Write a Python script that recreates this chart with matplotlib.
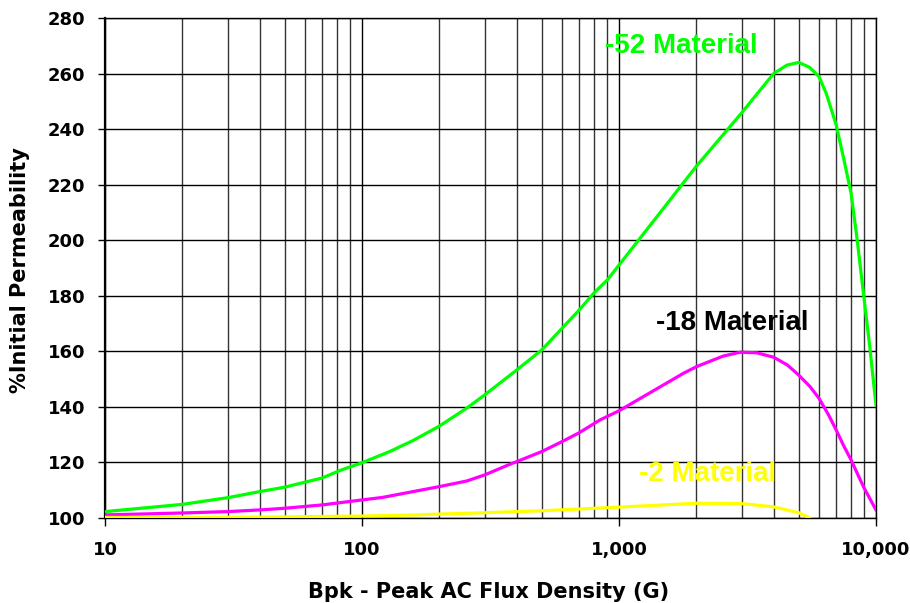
import matplotlib
matplotlib.use("Agg")
import matplotlib.pyplot as plt
from matplotlib.ticker import FixedLocator, NullFormatter, LogLocator

# ---- data ----
x52 = [10, 20, 30, 40, 50, 70, 82, 100, 128, 158, 200, 255, 300, 400, 500, 600, 700,
       800, 900, 1000, 1500, 2000, 3000, 3540, 4000, 4500, 5000, 5500, 6000, 6400, 7000,
       7460, 8000, 8420, 9000, 9420, 10000]
y52 = [102.2, 104.8, 107.2, 109.4, 111.0, 114.3, 117.0, 119.8, 123.8, 127.8, 133.0, 139.4,
       144.2, 153.2, 160.4, 168.2, 174.8, 181.0, 185.6, 191.0, 211.8, 226.6, 245.8,
       254.0, 260.0, 263.0, 264.0, 262.3, 258.9, 252.9, 241.5, 230.0, 216.9, 201.2, 178.4,
       163.0, 140.6]

x18 = [10, 20, 30, 40, 50, 70, 82, 100, 120, 158, 200, 255, 300, 375, 400, 500, 600, 700,
       843, 1000, 1320, 1780, 2000, 2540, 2960, 3440, 4000, 4520, 5000, 5540, 6000, 6540,
       7000, 7460, 8000, 8530, 9000, 10000]
y18 = [101.0, 101.7, 102.2, 102.8, 103.4, 104.6, 105.4, 106.4, 107.3, 109.4, 111.2, 113.2,
       115.4, 119.2, 120.2, 123.8, 127.4, 130.6, 135.2, 138.5, 145.0, 152.0, 154.4, 158.2,
       159.6, 159.4, 157.8, 155.0, 151.4, 147.2, 143.0, 137.0, 131.6, 126.2, 120.8, 115.2,
       110.6, 102.8]

x2 = [10, 20, 40, 50, 100, 163, 200, 300, 500, 1000, 2000, 3000, 4000, 5000, 5500]
y2 = [100.1, 100.1, 100.2, 100.3, 100.6, 101.0, 101.3, 101.8, 102.5, 103.8, 105.2, 105.1,
      103.9, 101.8, 100.0]

xticks = [10, 100, 1000, 10000]
xticklabels = ["10", "100", "1,000", "10,000"]
yticks = list(range(100, 281, 20))

labels = ["-52 Material", "-18 Material", "-2 Material"]
label_pos = [(1742, 270.0), (2755, 170.1), (2218, 115.7)]
colors = ["#00FF00", "#FF00FF", "#FFFF00"]
label_colors = ["#00FF00", "#000000", "#FFFF00"]

# ---- figure ----
fig = plt.figure(figsize=(9.10, 6.03), dpi=100)
ax = fig.add_axes([105/910, 1 - 517.7/603, (876 - 105)/910, (517.7 - 18)/603])

ax.set_xscale("log")
ax.set_xlim(10, 10000)
ax.set_ylim(100, 280)

ax.xaxis.set_major_locator(FixedLocator(xticks))
ax.xaxis.set_minor_locator(LogLocator(base=10, subs=range(2, 10)))
ax.xaxis.set_minor_formatter(NullFormatter())
ax.set_xticks(xticks)
ax.set_xticklabels(xticklabels)
ax.set_yticks(yticks)

ax.grid(True, which="major", axis="both", color="black", lw=1.0, zorder=0)
ax.grid(True, which="minor", axis="x", color="#333333", lw=1.0, zorder=0)

for lab in ax.get_xticklabels() + ax.get_yticklabels():
    lab.set_fontfamily("DejaVu Sans")
    lab.set_fontweight("bold")
    lab.set_fontsize(13)

ax.tick_params(axis="x", which="major", direction="out", length=5.8, width=1.0, pad=11.3)
ax.tick_params(axis="x", which="minor", length=0)
ax.tick_params(axis="y", which="major", direction="out", length=5.0, width=1.0, pad=9.0)

for side in ["top", "right", "bottom"]:
    ax.spines[side].set_color("black")
    ax.spines[side].set_linewidth(1.0)
ax.spines["left"].set_linewidth(1.6)

for xs, ys, c in zip([x52, x18, x2], [y52, y18, y2], colors):
    ax.plot(xs, ys, color=c, lw=2.3, zorder=3, clip_on=True, solid_joinstyle="round")

for t, (px, py), c in zip(labels, label_pos, label_colors):
    ax.text(px, py, t, color=c, fontsize=20, fontweight="bold",
            family="Liberation Sans", ha="center", va="center", zorder=4)

fig.text(489/910, 1 - 592/603, "Bpk - Peak AC Flux Density (G)", ha="center", va="center",
         fontsize=15, fontweight="bold", family="DejaVu Sans")
fig.text(20/910, 1 - 270/603, "%Initial Permeability", ha="center", va="center",
         rotation=90, fontsize=15, fontweight="bold", family="DejaVu Sans")

fig.savefig("out.png", dpi=100, facecolor="white")
